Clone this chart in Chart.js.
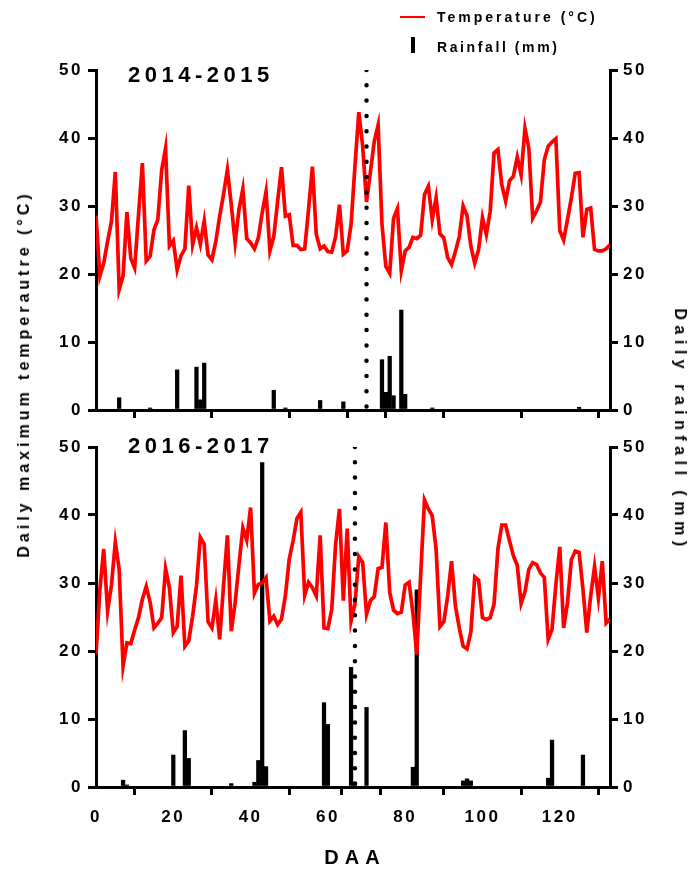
<!DOCTYPE html>
<html><head><meta charset="utf-8">
<script src="https://cdn.jsdelivr.net/npm/chart.js@4/dist/chart.umd.min.js"></script>
<style>
html,body{margin:0;padding:0;background:#fff;}
body{width:692px;height:871px;position:relative;overflow:hidden;font-family:"Liberation Sans",Arial,sans-serif;font-weight:bold;color:#000;}
canvas{position:absolute;left:0;}
.t{position:absolute;white-space:nowrap;line-height:1;}
</style></head><body>
<canvas id="c1" width="692" height="430" style="top:0"></canvas>
<canvas id="c2" width="692" height="441" style="top:430px"></canvas>

<div style="position:absolute;left:400px;top:16px;width:25px;height:2px;background:#ff0000"></div>
<div class="t" style="left:437px;top:10px;font-size:14px;letter-spacing:3px">Temperature (°C)</div>
<div style="position:absolute;left:411px;top:37px;width:4px;height:16px;background:#000"></div>
<div class="t" style="left:437px;top:40px;font-size:14px;letter-spacing:2.6px">Rainfall (mm)</div>

<div class="t" style="left:128px;top:64px;font-size:22px;letter-spacing:4.5px">2014-2015</div>
<div class="t" style="left:128px;top:435px;font-size:22px;letter-spacing:4.5px">2016-2017</div>

<div class="t" style="left:24px;top:374px;font-size:16px;letter-spacing:4px;transform:translate(-50%,-50%) rotate(-90deg)">Daily maximum temperautre (°C)</div>
<div class="t" style="left:680px;top:430px;font-size:16px;letter-spacing:5.5px;transform:translate(-50%,-50%) rotate(90deg)">Daily rainfall (mm)</div>
<div class="t" style="left:355px;top:857px;font-size:20px;letter-spacing:6px;transform:translate(-50%,-50%)">DAA</div>

<script>
// ---- data ----
const xTickValues = [0, 20, 40, 60, 80, 100, 120];
const yTickValues = [0, 10, 20, 30, 40, 50];

const temp2014 = [28.6,19.7,21.6,24.8,27.7,35.0,17.7,19.7,29.1,22.3,20.9,28.7,36.3,21.9,22.6,26.5,28.0,35.3,38.5,24.1,
24.9,20.6,22.7,23.7,33.0,24.3,26.8,24.4,27.8,22.8,22.1,24.8,28.5,31.7,35.3,30.2,24.6,29.5,32.5,25.2,
24.6,23.7,25.3,29.0,32.1,23.4,25.5,30.7,35.7,28.5,28.7,24.2,24.2,23.6,23.7,29.5,35.8,25.8,23.7,24.1,
23.3,23.2,25.5,30.2,22.9,23.4,27.3,35.8,43.8,38.8,30.6,35.0,39.5,41.9,27.3,21.1,20.1,28.2,29.6,20.5,
23.4,23.9,25.4,25.2,25.7,31.7,32.9,28.0,31.2,25.9,25.3,22.4,21.4,23.3,25.5,30.0,28.6,24.1,21.6,23.6,
28.3,25.8,29.2,37.8,38.3,33.1,30.7,33.7,34.4,37.2,34.6,41.4,38.5,28.2,29.3,30.6,36.8,38.8,39.4,39.9,
26.4,25.0,28.0,31.2,34.8,34.9,25.4,29.5,29.7,23.6,23.4,23.4,23.7,24.3];

const rainDays2014 = [6,14,21,26,27,28,46,49,58,64,74,75,76,77,79,80,87,125];
const rain2014     = [1.8,0.3,5.9,6.3,1.5,6.9,2.9,0.3,1.4,1.2,7.4,2.6,7.9,2.1,14.7,2.3,0.3,0.4];
const markDay2014 = 70;

const temp2016 = [19.5,29.0,35.0,25.9,29.7,36.0,32.0,17.8,21.2,21.1,23.1,24.9,27.6,29.5,27.2,23.4,24.1,24.9,32.1,29.3,
22.7,23.6,31.1,20.7,21.5,25.1,29.6,36.7,35.7,24.3,23.4,27.5,21.7,29.6,37.0,22.9,27.1,32.7,38.1,36.3,
41.1,28.5,29.8,30.0,30.8,24.4,25.1,23.9,24.7,28.1,33.5,36.2,39.5,40.4,28.2,30.1,29.3,28.1,37.0,23.4,
23.3,26.1,35.7,40.9,27.4,38.0,24.4,26.9,33.9,33.0,25.4,27.4,28.0,32.1,32.3,38.9,28.6,26.0,25.5,25.7,
29.7,30.1,25.6,19.5,31.0,42.2,40.9,39.9,35.0,23.6,24.3,28.1,33.2,26.6,23.4,20.7,20.3,22.8,30.9,30.4,
24.9,24.6,24.9,26.9,35.0,38.5,38.5,36.2,34.0,32.6,27.0,28.7,32.0,33.0,32.7,31.5,30.8,21.7,23.2,29.8,
35.3,23.4,27.1,33.4,34.7,34.5,29.1,22.7,28.1,32.4,27.8,33.2,24.1,24.7];

const rainDays2016 = [7,8,20,23,24,35,41,42,43,44,59,60,66,67,70,82,83,95,96,97,117,118,126];
const rain2016     = [1.0,0.3,4.7,8.3,4.2,0.5,0.7,3.9,47.7,3.0,12.4,9.2,17.6,0.7,11.7,2.9,29.0,0.9,1.2,0.9,1.3,6.9,4.7];
const markDay2016 = 67;

// ---- chart ----
const FONT = '"Liberation Sans", Arial, sans-serif';
const spacingPlugin = { id:'spacing', beforeDraw(chart){ chart.ctx.letterSpacing = '2.5px'; } };

function makePanel(id, temps, rainDays, rainVals, markDay, showLabels, padTop, xAxisH){
  const tempPts = temps.map((v,i)=>({x:i, y:v}));
  const rainPts = rainDays.map((d,i)=>({x:d, y:rainVals[i]}));
  const markPts = [{x:markDay, y:50},{x:markDay, y:0}];
  const axisGrid = {drawOnChartArea:false, color:'#000', lineWidth:3, tickLength:8, tickWidth:3};
  const axisBorder = {display:true, color:'#000', width:3};
  const tickFont = {family:FONT, size:17, weight:'bold'};
  return new Chart(document.getElementById(id), {
    type:'bar',
    data:{datasets:[
      {type:'line', data:markPts, yAxisID:'y', borderColor:'#000', borderWidth:4.5,
       borderDash:[0,15.3], borderCapStyle:'round', pointRadius:0, order:0},
      {type:'line', data:tempPts, yAxisID:'y', borderColor:'#ff0000', borderWidth:3.7,
       pointRadius:0, tension:0, borderJoinStyle:'miter', order:1},
      {type:'bar', data:rainPts, yAxisID:'y1', backgroundColor:'#000', borderWidth:0,
       barThickness:3.6, order:2}
    ]},
    options:{
      responsive:false, animation:false, devicePixelRatio:1,
      layout:{padding:{top:padTop, left:0, right:0, bottom:0}},
      plugins:{legend:{display:false}, tooltip:{enabled:false}},
      scales:{
        x:{type:'linear', min:0, max:133, offset:false,
           afterBuildTicks:s=>{ s.ticks = xTickValues.concat([markDay]).sort((a,b)=>a-b).map(v=>({value:v})); },
           ticks:{display:showLabels, color:'#000', font:tickFont, padding:12, maxRotation:0, autoSkip:false,
                  callback:v=> (v===markDay ? '' : String(v))},
           grid:axisGrid, border:axisBorder,
           afterFit:s=>{ s.height = xAxisH; }},
        y:{type:'linear', position:'left', min:0, max:50,
           afterBuildTicks:s=>{ s.ticks = yTickValues.map(v=>({value:v})); },
           ticks:{color:'#000', font:tickFont, padding:5},
           grid:axisGrid, border:axisBorder,
           afterFit:s=>{ s.width = 96; }},
        y1:{type:'linear', position:'right', min:0, max:50,
           afterBuildTicks:s=>{ s.ticks = yTickValues.map(v=>({value:v})); },
           ticks:{color:'#000', font:tickFont, padding:5},
           grid:axisGrid, border:axisBorder,
           afterFit:s=>{ s.width = 82; }}
      }
    },
    plugins:[spacingPlugin]
  });
}

makePanel('c1', temp2014, rainDays2014, rain2014, markDay2014, false, 70, 20);
makePanel('c2', temp2016, rainDays2016, rain2016, markDay2016, true, 17, 84);
</script>
</body></html>
